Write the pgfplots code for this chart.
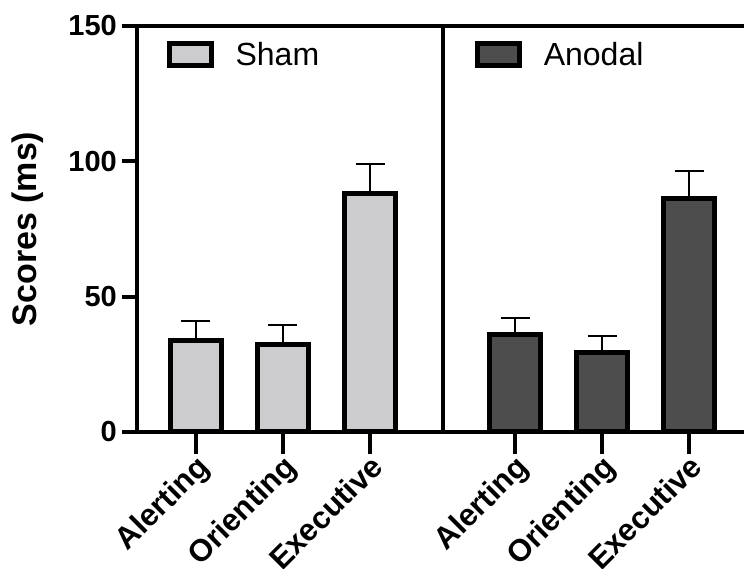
\documentclass[border=0pt]{standalone}
\usepackage{pgfplots}
\pgfplotsset{compat=1.18}
\usepackage{fontspec}
\setmainfont{Liberation Sans}
\definecolor{shamc}{RGB}{204,204,206}
\definecolor{anodc}{RGB}{77,77,77}

\pgfplotstableread{
x y e
0 33.8 7.2
1 32.5 7.0
2 88.1 10.8
}\shamtab
\pgfplotstableread{
x y e
0 35.9 6.2
1 29.3 6.2
2 86.1 10.2
}\anodtab

\pgfplotsset{
  base/.style={
    scale only axis, height=406pt,
    ymin=0, ymax=150,
    axis x line=box, axis y line=left,
    axis line style={line width=4pt,-},
    every outer x axis line/.append style={-},
    every outer y axis line/.append style={-},
    tick align=outside, major tick length=15pt,
    tick style={line width=4pt, black},
    x tick style={/pgfplots/major tick length=22pt},
    xtick pos=bottom, ytick pos=left,
    xtick={0,1,2}, xticklabels={Alerting,Orienting,Executive},
    x tick label style={font=\fontsize{31}{37}\selectfont\bfseries, rotate=45, anchor=north east, inner sep=0pt, xshift=-5pt, yshift=-3pt},
    y tick label style={font=\fontsize{29}{35}\selectfont\bfseries, inner sep=0pt, xshift=-5pt},
    /pgf/number format/assume math mode=true,
    legend style={draw=none, fill=none, font=\fontsize{32}{38}\selectfont, inner sep=0pt, anchor=west, legend cell align=left,
      /tikz/every odd column/.append style={column sep=20pt}},
  },
  errs/.style={error bars/.cd, y dir=plus, y explicit,
    error bar style={line width=2pt, black},
    error mark options={rotate=90, line width=2pt, black, mark size=14.5pt}},
  legsham/.style={legend image code/.code={\draw[fill=shamc, draw=black, line width=5pt] (0pt,-11pt) rectangle (42pt,11pt);}},
  leganod/.style={legend image code/.code={\draw[fill=anodc, draw=black, line width=5pt] (0pt,-11pt) rectangle (42pt,11pt);}},
}

\begin{document}
\begin{tikzpicture}
\begin{axis}[base, width=306pt, xmin=-0.678, xmax=2.839,
  ytick={0,50,100,150},
  ylabel={Scores (ms)},
  ylabel style={font=\fontsize{34}{40}\selectfont\bfseries, at={(axis description cs:-0.356,0.5)}, anchor=center},
  legend style={at={(axis description cs:0.096,0.93)}},
]
\addplot[ybar, bar width=0.586, fill=shamc, draw=black, line width=5pt, legsham, errs]
  table[x=x, y=y, y error=e] {\shamtab};
\addlegendentry{Sham}
\end{axis}
\begin{axis}[base, at={(306pt,0pt)}, width=301pt, xmin=-0.828, xmax=2.632,
  ytick=\empty,
  legend style={at={(axis description cs:0.105,0.93)}},
]
\addplot[ybar, bar width=0.586, fill=anodc, draw=black, line width=5pt, leganod, errs]
  table[x=x, y=y, y error=e] {\anodtab};
\addlegendentry{Anodal}
\end{axis}
\pgfresetboundingbox
\path (-137pt,-137pt) rectangle (607pt,432pt);
\end{tikzpicture}
\end{document}
